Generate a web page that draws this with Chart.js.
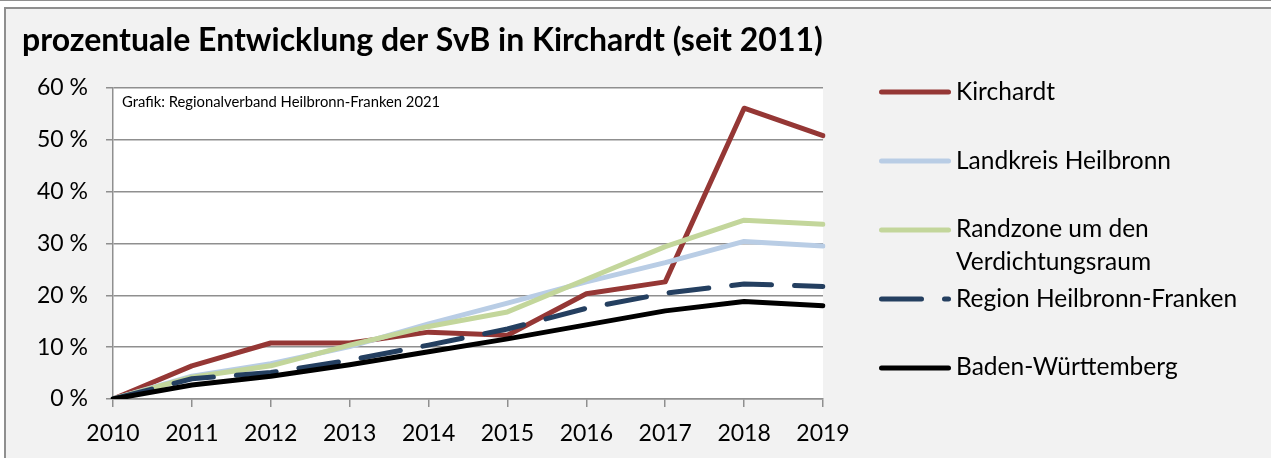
<!DOCTYPE html>
<html>
<head>
<meta charset="utf-8">
<script src="https://cdn.jsdelivr.net/npm/chart.js@4.4.1/dist/chart.umd.min.js"></script>
<style>
  html, body { margin: 0; padding: 0; background: #ffffff; width: 1271px; height: 458px; overflow: hidden; }
  #topline { position: absolute; left: 0; top: 0; width: 1271px; height: 1px; background: #8f8f8f; }
  #frame { position: absolute; left: 4px; top: 7px; width: 1300px; height: 500px; background: #f2f2f2; border-left: 2px solid #8f8f8f; border-top: 2px solid #8f8f8f; }
  #c { position: absolute; left: 0; top: 0; }
</style>
</head>
<body>
<div id="topline"></div>
<div id="frame"></div>
<canvas id="c" width="1271" height="458"></canvas>
<script>
const title = 'prozentuale Entwicklung der SvB in Kirchardt (seit 2011)';
const sourceNote = 'Grafik: Regionalverband Heilbronn-Franken 2021';
const years = ['2010','2011','2012','2013','2014','2015','2016','2017','2018','2019'];
const seriesNames = ['Kirchardt','Landkreis Heilbronn','Randzone um den Verdichtungsraum','Region Heilbronn-Franken','Baden-Württemberg'];
const legendLines = [['Kirchardt'],['Landkreis Heilbronn'],['Randzone um den','Verdichtungsraum'],['Region Heilbronn-Franken'],['Baden-Württemberg']];
const kirchardt  = [0, 6.4, 10.8, 10.8, 12.9, 12.3, 20.3, 22.6, 56.1, 50.8];
const landkreis  = [0, 4.4, 6.8, 10.1, 14.5, 18.5, 22.6, 26.3, 30.4, 29.5];
const randzone   = [0, 4.2, 6.4, 10.4, 14.0, 16.8, 23.1, 29.4, 34.5, 33.7];
const region     = [0, 3.9, 5.1, 7.5, 10.4, 13.5, 17.5, 20.4, 22.2, 21.7];
const bw         = [0, 2.7, 4.4, 6.6, 9.1, 11.6, 14.3, 17.0, 18.8, 18.0];
const yTicks     = [0, 10, 20, 30, 40, 50, 60];

const colors = ['#953735', '#b9cde5', '#c3d69b', '#243f60', '#000000'];
const dashes = [[], [], [], [40, 23], []];
const FONT = 'Lato, "Open Sans", sans-serif';

const seriesData = [kirchardt, landkreis, randzone, region, bw];
const datasets = seriesData.map((d, i) => ({
  label: seriesNames[i],
  data: d,
  borderColor: colors[i],
  backgroundColor: colors[i],
  borderWidth: 5,
  borderDash: dashes[i],
  borderCapStyle: 'round',
  borderJoinStyle: 'round',
  pointRadius: 0,
  pointHoverRadius: 0,
  tension: 0,
  fill: false,
  order: 5 - i
}));

const decor = {
  id: 'decor',
  beforeDraw(chart) {
    const {ctx, chartArea: a} = chart;
    ctx.save();
    ctx.fillStyle = '#ffffff';
    ctx.fillRect(a.left, a.top, a.right - a.left, a.bottom - a.top);
    ctx.restore();
  },
  afterDraw(chart) {
    const {ctx, chartArea: a} = chart;
    ctx.save();
    // title
    ctx.fillStyle = '#000';
    ctx.font = 'bold 32px ' + FONT;
    ctx.textAlign = 'left';
    ctx.textBaseline = 'alphabetic';
    ctx.fillText(title, 22, 51);
    // source note
    ctx.font = '14.8px ' + FONT;
    ctx.fillText(sourceNote, a.left + 9, 107);
    // legend
    const lineY = [92, 161, 230, 299, 368];
    const textBase = [[100], [169], [237, 270], [307], [375]];
    ctx.font = '24.5px ' + FONT;
    datasets.forEach((ds, i) => {
      ctx.beginPath();
      ctx.strokeStyle = ds.borderColor;
      ctx.lineWidth = 5;
      ctx.lineCap = 'round';
      ctx.setLineDash(ds.borderDash);
      ctx.moveTo(881.5, lineY[i]);
      ctx.lineTo(948.5, lineY[i]);
      ctx.stroke();
      ctx.setLineDash([]);
      ctx.fillStyle = '#000';
      legendLines[i].forEach((t, k) => ctx.fillText(t, 956, textBase[i][k]));
    });
    ctx.restore();
  }
};

new Chart(document.getElementById('c'), {
  type: 'line',
  data: { labels: years, datasets },
  options: {
    responsive: false,
    animation: false,
    events: [],
    layout: { padding: { left: 22, top: 88, right: 448, bottom: 0 } },
    plugins: { legend: { display: false }, title: { display: false }, tooltip: { enabled: false } },
    scales: {
      x: {
        offset: false,
        afterFit(s) { s.height = 59; },
        grid: { drawOnChartArea: false, drawTicks: true, tickLength: 8, color: '#8f8f8f', lineWidth: 1.5 },
        border: { display: true, color: '#8f8f8f', width: 1.5 },
        ticks: { color: '#000', font: { family: FONT, size: 23 }, padding: 13, maxRotation: 0, autoSkip: false }
      },
      y: {
        min: 0, max: 60,
        afterFit(s) { s.width = 91; },
        afterBuildTicks(s) { s.ticks = yTicks.map(v => ({ value: v })); },
        grid: { drawOnChartArea: true, drawTicks: true, tickLength: 7, color: '#8f8f8f', lineWidth: 1.5 },
        border: { display: true, color: '#8f8f8f', width: 1.5 },
        ticks: { color: '#000', font: { family: FONT, size: 23 }, padding: 18, callback: v => v + ' %' }
      }
    }
  },
  plugins: [decor]
});
</script>
</body>
</html>
